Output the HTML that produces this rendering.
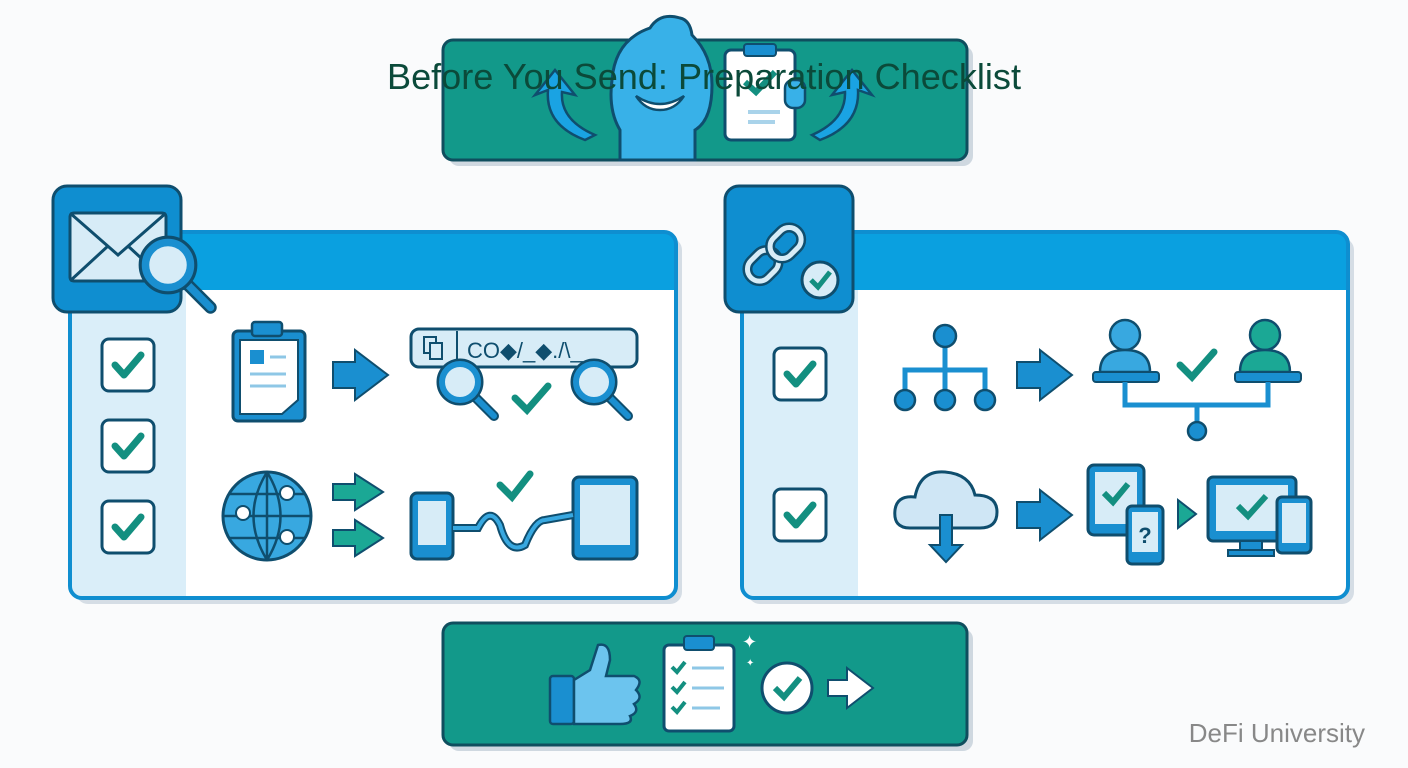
<!DOCTYPE html>
<html><head><meta charset="utf-8"><style>
html,body{margin:0;padding:0;background:#fafbfc;}
svg{display:block}
text{font-family:"Liberation Sans",sans-serif}
</style></head><body>
<svg width="1408" height="768" viewBox="0 0 1408 768" xmlns="http://www.w3.org/2000/svg">
<defs>
<g id="chk"><rect x="-26" y="-26" width="52" height="52" rx="7" fill="#fff" stroke="#0f4e6e" stroke-width="3"/><path d="M-13 0 L-4 10 L13 -10" fill="none" stroke="#138f80" stroke-width="7" stroke-linecap="round" stroke-linejoin="round"/></g>
<g id="mag"><line x1="14" y1="14" x2="34" y2="34" stroke="#0f4e6e" stroke-width="10" stroke-linecap="round"/><line x1="14" y1="14" x2="34" y2="34" stroke="#1a8fd0" stroke-width="6" stroke-linecap="round"/><circle r="22" fill="#d7ecf7" stroke="#0f4e6e" stroke-width="3"/><circle r="18" fill="none" stroke="#1a8fd0" stroke-width="6"/></g>
</defs>
<!-- shadows -->
<rect x="449" y="46" width="524" height="120" rx="10" fill="#cfd8e0"/>
<rect x="449" y="629" width="524" height="122" rx="10" fill="#cfd8e0"/>
<rect x="76" y="238" width="606" height="366" rx="12" fill="#d5dde5"/>
<rect x="748" y="238" width="606" height="366" rx="12" fill="#d5dde5"/>
<!-- top banner -->
<rect x="443" y="40" width="524" height="120" rx="10" fill="#12998a" stroke="#0f4e5e" stroke-width="3"/>
<path d="M585 140 Q545 125 548 90 L535 95 L555 70 L575 95 L562 92 Q560 120 595 135Z" fill="#1aa3e3" stroke="#0f4e6e" stroke-width="2.5"/>
<path d="M820 140 Q860 125 858 90 L872 95 L852 70 L832 95 L845 92 Q846 120 812 135Z" fill="#1aa3e3" stroke="#0f4e6e" stroke-width="2.5"/>
<path d="M620 160 L620 130 Q608 110 612 80 Q615 40 650 28 Q660 12 680 18 Q690 20 692 35 Q712 55 712 85 Q712 120 695 130 L695 160Z" fill="#38b1e8" stroke="#0f4e6e" stroke-width="3"/>
<path d="M636 96 Q660 112 684 96 Q675 110 660 110 Q645 110 636 96Z" fill="#fff" stroke="#0f4e6e" stroke-width="2.5"/>
<rect x="725" y="50" width="70" height="90" rx="6" fill="#fff" stroke="#0f4e6e" stroke-width="3"/>
<rect x="744" y="44" width="32" height="12" rx="3" fill="#1a8fd0" stroke="#0f4e6e" stroke-width="2"/>
<path d="M745 82 L756 92 L775 72" fill="none" stroke="#138f80" stroke-width="6"/>
<line x1="748" y1="112" x2="780" y2="112" stroke="#a9d3ea" stroke-width="4"/><line x1="748" y1="122" x2="775" y2="122" stroke="#a9d3ea" stroke-width="4"/>
<rect x="785" y="80" width="20" height="28" rx="8" fill="#38b1e8" stroke="#0f4e6e" stroke-width="2.5"/>
<text x="704" y="89" font-size="36" fill="#0b4a3a" text-anchor="middle" textLength="634" lengthAdjust="spacingAndGlyphs">Before You Send: Preparation Checklist</text>

<!-- LEFT PANEL -->
<rect x="70" y="232" width="606" height="366" rx="12" fill="#fff"/>
<path d="M72 290 L72 584 Q72 596 84 596 L186 596 L186 290Z" fill="#daeef9"/>
<path d="M70 290 L70 244 Q70 232 82 232 L664 232 Q676 232 676 244 L676 290Z" fill="#0aa0e0"/>
<rect x="70" y="232" width="606" height="366" rx="12" fill="none" stroke="#0f8ed0" stroke-width="4"/>
<rect x="53" y="186" width="128" height="126" rx="14" fill="#0f8ed0" stroke="#0f4e6e" stroke-width="3"/>
<rect x="70" y="213" width="96" height="68" rx="4" fill="#d7ecf7" stroke="#0f4e6e" stroke-width="3"/>
<path d="M70 213 L118 255 L166 213 M70 281 L108 246 M166 281 L128 246" fill="none" stroke="#0f4e6e" stroke-width="3"/>
<g transform="translate(168,265) scale(1.25)"><use href="#mag"/></g>
<use href="#chk" x="128" y="365"/><use href="#chk" x="128" y="446"/><use href="#chk" x="128" y="527"/>
<rect x="233" y="331" width="72" height="90" rx="5" fill="#1a8fd0" stroke="#0f4e6e" stroke-width="3"/>
<path d="M240 340 L298 340 L298 400 L282 414 L240 414Z" fill="#fff" stroke="#0f4e6e" stroke-width="2"/>
<rect x="252" y="322" width="30" height="14" rx="3" fill="#1a8fd0" stroke="#0f4e6e" stroke-width="2.5"/>
<rect x="250" y="350" width="14" height="14" fill="#1a8fd0"/>
<line x1="270" y1="357" x2="286" y2="357" stroke="#8ec7e6" stroke-width="3"/><line x1="250" y1="374" x2="286" y2="374" stroke="#8ec7e6" stroke-width="3"/><line x1="250" y1="386" x2="286" y2="386" stroke="#8ec7e6" stroke-width="3"/>
<path d="M333 362 L355 362 L355 350 L388 375 L355 400 L355 388 L333 388Z" fill="#1a8fd0" stroke="#0f4e6e" stroke-width="2"/>
<rect x="411" y="329" width="226" height="38" rx="8" fill="#d7ecf7" stroke="#0f4e6e" stroke-width="3"/>
<line x1="457" y1="331" x2="457" y2="365" stroke="#0f4e6e" stroke-width="2"/>
<rect x="424" y="337" width="12" height="16" fill="none" stroke="#0f4e6e" stroke-width="2"/><rect x="430" y="343" width="12" height="16" fill="#d7ecf7" stroke="#0f4e6e" stroke-width="2"/>
<text x="467" y="358" font-size="22" fill="#0f4e6e" font-family="Liberation Mono">CO◆/_◆./\_</text>
<use href="#mag" x="460" y="382"/><use href="#mag" x="594" y="382"/>
<path d="M515 398 L527 410 L548 386" fill="none" stroke="#138f80" stroke-width="7" stroke-linecap="round"/>
<circle cx="267" cy="516" r="44" fill="#38a8e0" stroke="#0f4e6e" stroke-width="3"/>
<path d="M267 472 L267 560 M223 516 L311 516 M230 494 L304 494 M230 538 L304 538 M267 472 Q240 516 267 560 M267 472 Q294 516 267 560" fill="none" stroke="#0f4e6e" stroke-width="2.5"/>
<circle cx="287" cy="493" r="7" fill="#fff" stroke="#0f4e6e" stroke-width="2"/><circle cx="243" cy="513" r="7" fill="#fff" stroke="#0f4e6e" stroke-width="2"/><circle cx="287" cy="537" r="7" fill="#fff" stroke="#0f4e6e" stroke-width="2"/>
<path d="M333 484 L355 484 L355 474 L383 492 L355 510 L355 500 L333 500Z" fill="#1ba895" stroke="#0f4e6e" stroke-width="2"/>
<path d="M333 530 L355 530 L355 520 L383 538 L355 556 L355 546 L333 546Z" fill="#1ba895" stroke="#0f4e6e" stroke-width="2"/>
<rect x="411" y="493" width="42" height="66" rx="6" fill="#1a8fd0" stroke="#0f4e6e" stroke-width="3"/><rect x="418" y="501" width="28" height="44" fill="#d7ecf7"/>
<rect x="573" y="477" width="64" height="82" rx="6" fill="#1a8fd0" stroke="#0f4e6e" stroke-width="3"/><rect x="580" y="485" width="50" height="60" fill="#d7ecf7"/>
<path d="M453 528 L478 528 Q490 505 500 525 Q508 555 525 545 Q535 520 545 520 L573 515" fill="none" stroke="#0f4e6e" stroke-width="8"/>
<path d="M453 528 L478 528 Q490 505 500 525 Q508 555 525 545 Q535 520 545 520 L573 515" fill="none" stroke="#38a8e0" stroke-width="4"/>
<path d="M500 485 L512 497 L530 474" fill="none" stroke="#138f80" stroke-width="7" stroke-linecap="round"/>

<!-- RIGHT PANEL -->
<rect x="742" y="232" width="606" height="366" rx="12" fill="#fff"/>
<path d="M744 290 L744 584 Q744 596 756 596 L858 596 L858 290Z" fill="#daeef9"/>
<path d="M742 290 L742 244 Q742 232 754 232 L1336 232 Q1348 232 1348 244 L1348 290Z" fill="#0aa0e0"/>
<rect x="742" y="232" width="606" height="366" rx="12" fill="none" stroke="#0f8ed0" stroke-width="4"/>
<rect x="725" y="186" width="128" height="126" rx="14" fill="#0f8ed0" stroke="#0f4e6e" stroke-width="3"/>
<g transform="rotate(-45 775 255)">
<rect x="742" y="242" width="34" height="24" rx="12" fill="none" stroke="#0f4e6e" stroke-width="10"/>
<rect x="742" y="242" width="34" height="24" rx="12" fill="none" stroke="#d7ecf7" stroke-width="5"/>
<rect x="774" y="242" width="34" height="24" rx="12" fill="none" stroke="#0f4e6e" stroke-width="10"/>
<rect x="774" y="242" width="34" height="24" rx="12" fill="none" stroke="#d7ecf7" stroke-width="5"/>
</g>
<circle cx="820" cy="280" r="18" fill="#d7ecf7" stroke="#0f4e6e" stroke-width="3"/>
<path d="M811 280 L818 287 L830 272" fill="none" stroke="#138f80" stroke-width="5"/>
<use href="#chk" x="800" y="374"/><use href="#chk" x="800" y="515"/>
<g stroke="#1a8fd0" stroke-width="5" fill="none"><line x1="945" y1="338" x2="945" y2="398"/><path d="M905 398 L905 370 L985 370 L985 398"/></g>
<g fill="#1a8fd0" stroke="#0f4e6e" stroke-width="2.5"><circle cx="945" cy="336" r="11"/><circle cx="905" cy="400" r="10"/><circle cx="945" cy="400" r="10"/><circle cx="985" cy="400" r="10"/></g>
<path d="M1017 362 L1040 362 L1040 350 L1072 375 L1040 400 L1040 388 L1017 388Z" fill="#1a8fd0" stroke="#0f4e6e" stroke-width="2"/>
<circle cx="1125" cy="335" r="15" fill="#38a8e0" stroke="#0f4e6e" stroke-width="2.5"/><path d="M1100 372 Q1100 350 1125 350 Q1150 350 1150 372Z" fill="#38a8e0" stroke="#0f4e6e" stroke-width="2.5"/>
<circle cx="1265" cy="335" r="15" fill="#1ba895" stroke="#0f4e6e" stroke-width="2.5"/><path d="M1240 372 Q1240 350 1265 350 Q1290 350 1290 372Z" fill="#1ba895" stroke="#0f4e6e" stroke-width="2.5"/>
<rect x="1093" y="372" width="66" height="10" rx="3" fill="#1a8fd0" stroke="#0f4e6e" stroke-width="2"/><rect x="1235" y="372" width="66" height="10" rx="3" fill="#1a8fd0" stroke="#0f4e6e" stroke-width="2"/>
<path d="M1125 382 L1125 405 L1268 405 L1268 382 M1197 405 L1197 428" fill="none" stroke="#1a8fd0" stroke-width="5"/>
<circle cx="1197" cy="431" r="9" fill="#1a8fd0" stroke="#0f4e6e" stroke-width="2.5"/>
<path d="M1180 365 L1192 377 L1214 352" fill="none" stroke="#138f80" stroke-width="7" stroke-linecap="round"/>
<path d="M910 528 Q893 528 895 510 Q897 495 915 497 Q920 470 945 472 Q970 474 975 495 Q997 495 997 512 Q997 528 980 528Z" fill="#cfe6f5" stroke="#0f4e6e" stroke-width="3"/>
<path d="M940 515 L940 545 L930 545 L946 562 L962 545 L952 545 L952 515Z" fill="#1a8fd0" stroke="#0f4e6e" stroke-width="2"/>
<path d="M1017 502 L1040 502 L1040 490 L1072 515 L1040 540 L1040 528 L1017 528Z" fill="#1a8fd0" stroke="#0f4e6e" stroke-width="2"/>
<rect x="1088" y="465" width="56" height="70" rx="6" fill="#1a8fd0" stroke="#0f4e6e" stroke-width="3"/><rect x="1095" y="472" width="42" height="52" fill="#d7ecf7"/>
<path d="M1104 493 L1113 502 L1128 484" fill="none" stroke="#138f80" stroke-width="6"/>
<rect x="1127" y="506" width="36" height="58" rx="5" fill="#1a8fd0" stroke="#0f4e6e" stroke-width="3"/><rect x="1132" y="512" width="26" height="40" fill="#d7ecf7"/>
<text x="1145" y="543" font-size="22" fill="#0f4e6e" text-anchor="middle" font-weight="bold">?</text>
<path d="M1178 500 L1196 514 L1178 528Z" fill="#1ba895" stroke="#0f4e6e" stroke-width="2"/>
<rect x="1208" y="477" width="88" height="64" rx="5" fill="#1a8fd0" stroke="#0f4e6e" stroke-width="3"/><rect x="1216" y="485" width="72" height="46" fill="#d7ecf7"/>
<rect x="1240" y="541" width="22" height="10" fill="#1a8fd0" stroke="#0f4e6e" stroke-width="2"/><rect x="1228" y="550" width="46" height="6" fill="#1a8fd0" stroke="#0f4e6e" stroke-width="2"/>
<path d="M1238 506 L1248 516 L1266 496" fill="none" stroke="#138f80" stroke-width="6"/>
<rect x="1277" y="497" width="34" height="56" rx="5" fill="#1a8fd0" stroke="#0f4e6e" stroke-width="3"/><rect x="1282" y="503" width="24" height="40" fill="#d7ecf7"/>

<!-- bottom banner -->
<rect x="443" y="623" width="524" height="122" rx="10" fill="#12998a" stroke="#0f4e5e" stroke-width="3"/>
<rect x="550" y="676" width="24" height="48" rx="3" fill="#1a8fd0" stroke="#0f4e6e" stroke-width="2.5"/>
<path d="M574 680 L590 670 L598 645 Q610 642 610 660 L606 676 L634 676 Q644 680 636 690 Q644 698 634 704 Q640 712 630 716 Q634 724 620 724 L574 724Z" fill="#6cc4ee" stroke="#0f4e6e" stroke-width="2.5"/>
<rect x="664" y="645" width="70" height="86" rx="5" fill="#fff" stroke="#0f4e6e" stroke-width="3"/>
<rect x="684" y="636" width="30" height="14" rx="3" fill="#1a8fd0" stroke="#0f4e6e" stroke-width="2"/>
<g fill="none" stroke="#138f80" stroke-width="4"><path d="M672 667 L677 672 L685 662"/><path d="M672 687 L677 692 L685 682"/><path d="M672 707 L677 712 L685 702"/></g>
<g stroke="#8ec7e6" stroke-width="3"><line x1="692" y1="668" x2="724" y2="668"/><line x1="692" y1="688" x2="724" y2="688"/><line x1="692" y1="708" x2="720" y2="708"/></g>
<text x="742" y="648" font-size="18" fill="#fff">✦</text><text x="746" y="666" font-size="10" fill="#fff">✦</text>
<circle cx="787" cy="688" r="25" fill="#fff" stroke="#0f4e6e" stroke-width="3"/>
<path d="M775 688 L784 697 L800 678" fill="none" stroke="#138f80" stroke-width="6"/>
<path d="M828 680 L847 680 L847 668 L873 688 L847 708 L847 696 L828 696Z" fill="#fff" stroke="#0f4e6e" stroke-width="2"/>
<text x="1365" y="742" font-size="26" fill="#888" text-anchor="end">DeFi University</text>
</svg>
</body></html>
